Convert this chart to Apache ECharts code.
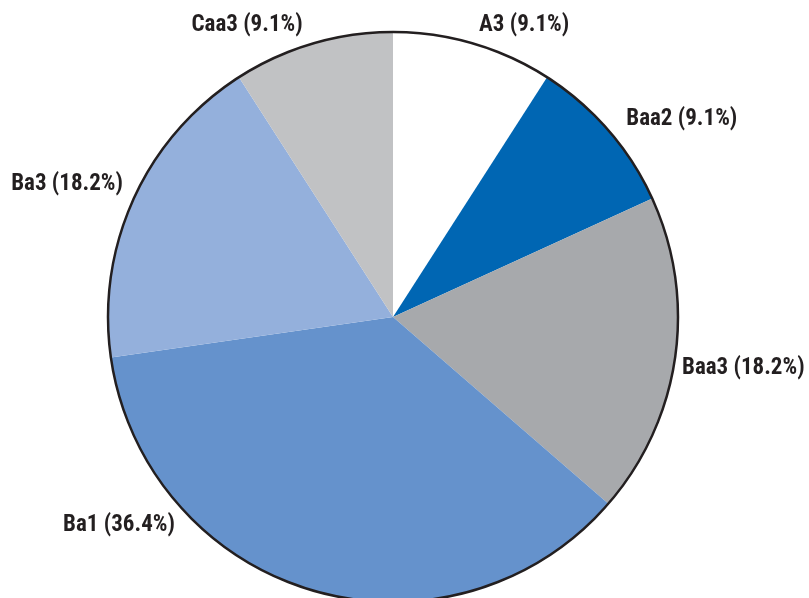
<!DOCTYPE html>
<html>
<head>
<meta charset="utf-8">
<script src="https://cdn.jsdelivr.net/npm/echarts@6/dist/echarts.min.js"></script>
<style>
html,body{margin:0;padding:0;background:#fff;}
#chart{width:809px;height:598px;}
</style>
</head>
<body>
<div id="chart"></div>
<script>
var categories = ['A3', 'Baa2', 'Baa3', 'Ba1', 'Ba3', 'Caa3'];
var shares = [9.1, 9.1, 18.2, 36.4, 18.2, 9.1];
var colors = ['#ffffff', '#0066b3', '#a7a9ac', '#6592cc', '#94b0dc', '#c1c2c4'];

// label anchor: angle clockwise from 12 o'clock (deg) and distance from pie centre (px)
var labelAnchor = {
  'A3': [24.2, 320], 'Baa2': [55.6, 350], 'Baa3': [98.3, 354],
  'Ba1': [232.8, 344], 'Ba3': [292.2, 352], 'Caa3': [333.4, 326]
};

var chart = echarts.init(document.getElementById('chart'));
var cx = 393, cy = 317, R = 285;

var data = categories.map(function (c, i) {
  return { name: c, value: shares[i], itemStyle: { color: colors[i] } };
});

chart.setOption({
  animation: false,
  backgroundColor: '#ffffff',
  series: [
    {
      type: 'pie',
      center: [cx, cy],
      radius: [0, R],
      startAngle: 90,
      clockwise: true,
      data: data,
      itemStyle: { borderWidth: 0 },
      emphasis: { disabled: true },
      labelLine: { show: false },
      label: {
        show: true,
        position: 'outside',
        overflow: 'none',
        formatter: function (p) { return p.name + ' (' + p.value.toFixed(1) + '%)'; },
        fontFamily: '"Roboto Condensed", "Open Sans Condensed", sans-serif',
        fontWeight: 'bold',
        fontSize: 23,
        color: '#231f20'
      },
      labelLayout: function (params) {
        var name = categories[params.dataIndex];
        var a = labelAnchor[name];
        var rad = a[0] * Math.PI / 180;
        return {
          x: cx + Math.sin(rad) * a[1],
          y: cy - Math.cos(rad) * a[1],
          align: 'center',
          verticalAlign: 'middle'
        };
      }
    },
    {
      type: 'pie',
      center: [cx, cy],
      radius: [0, R],
      silent: true,
      label: { show: false },
      labelLine: { show: false },
      data: [{ value: 1, name: 'outline' }],
      itemStyle: { color: 'rgba(0,0,0,0)', borderColor: '#231f20', borderWidth: 2.5 }
    }
  ]
});
</script>
</body>
</html>
